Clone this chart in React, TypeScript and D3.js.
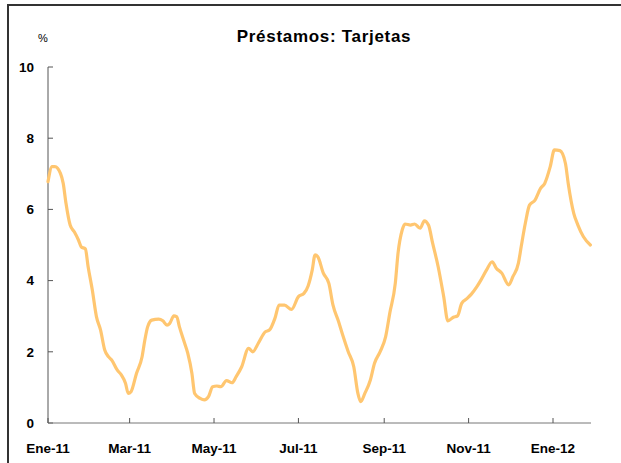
import React from "react";
import * as d3 from "d3";

const dates: string[] = [
  "2011-01-01","2011-01-04","2011-01-06","2011-01-10","2011-01-12","2011-01-14","2011-01-17","2011-01-20","2011-01-23","2011-01-25",
  "2011-01-28","2011-01-30","2011-02-02","2011-02-05","2011-02-08","2011-02-11","2011-02-14","2011-02-16","2011-02-20","2011-02-23",
  "2011-02-26","2011-02-28","2011-03-02","2011-03-06","2011-03-10","2011-03-12","2011-03-14","2011-03-17","2011-03-22","2011-03-25",
  "2011-03-28","2011-03-30","2011-04-02","2011-04-04","2011-04-06","2011-04-09","2011-04-12","2011-04-15","2011-04-17","2011-04-21",
  "2011-04-24","2011-04-27","2011-04-30","2011-05-03","2011-05-06","2011-05-10","2011-05-14","2011-05-17","2011-05-21","2011-05-26",
  "2011-05-29","2011-06-02","2011-06-07","2011-06-10","2011-06-14","2011-06-17","2011-06-21","2011-06-26","2011-07-01","2011-07-05",
  "2011-07-08","2011-07-11","2011-07-13","2011-07-15","2011-07-19","2011-07-23","2011-07-26","2011-07-30","2011-08-02","2011-08-06",
  "2011-08-10","2011-08-13","2011-08-15","2011-08-18","2011-08-22","2011-08-25","2011-08-29","2011-09-02","2011-09-05","2011-09-09",
  "2011-09-11","2011-09-14","2011-09-16","2011-09-20","2011-09-23","2011-09-27","2011-09-30","2011-10-03","2011-10-06","2011-10-10",
  "2011-10-14","2011-10-17","2011-10-21","2011-10-24","2011-10-27","2011-10-31","2011-11-03","2011-11-07","2011-11-10","2011-11-14",
  "2011-11-18","2011-11-21","2011-11-25","2011-11-30","2011-12-03","2011-12-07","2011-12-09","2011-12-12","2011-12-15","2011-12-19",
  "2011-12-23","2011-12-26","2011-12-30","2012-01-02","2012-01-06","2012-01-10","2012-01-12","2012-01-16","2012-01-19","2012-01-23",
  "2012-01-28",
];

const values: number[] = [
  6.78,7.20,7.20,7.01,6.73,6.17,5.56,5.37,5.14,4.95,
  4.89,4.39,3.74,2.99,2.61,2.05,1.85,1.77,1.49,1.35,
  1.12,0.83,0.88,1.40,1.86,2.33,2.70,2.89,2.92,2.87,
  2.75,2.80,3.01,2.99,2.70,2.33,1.96,1.40,0.83,0.69,
  0.65,0.74,1.02,1.04,1.02,1.19,1.13,1.30,1.58,2.10,
  2.00,2.24,2.56,2.61,2.94,3.31,3.31,3.19,3.55,3.64,
  3.85,4.30,4.72,4.67,4.21,3.92,3.31,2.85,2.47,2.00,
  1.58,0.83,0.60,0.83,1.21,1.68,2.00,2.42,3.08,3.92,
  4.77,5.42,5.59,5.56,5.59,5.47,5.68,5.56,5.05,4.39,
  3.55,2.87,2.97,3.01,3.36,3.50,3.62,3.83,4.02,4.30,
  4.53,4.35,4.21,3.88,4.11,4.49,4.95,5.61,6.12,6.26,
  6.59,6.73,7.20,7.67,7.65,7.29,6.73,5.89,5.56,5.23,
  5.00,
];

const yTicks: number[] = [0, 2, 4, 6, 8, 10];
const xTickDates: string[] = ["2011-01-01","2011-03-01","2011-05-01","2011-07-01","2011-09-01","2011-11-01","2012-01-01"];
const xTickLabels: string[] = ["Ene-11","Mar-11","May-11","Jul-11","Sep-11","Nov-11","Ene-12"];
const title = "Préstamos: Tarjetas";
const unit = "%";

const parse = d3.utcParse("%Y-%m-%d");

export default function App() {
  const W = 621, H = 463;
  const left = 48, right = 591, top = 67, bottom = 423;
  const x = d3.scaleUtc()
    .domain([parse("2011-01-01")!, parse("2012-01-01")!])
    .range([left, 553]);
  const y = d3.scaleLinear().domain([0, 10]).range([bottom, top]);
  const pts = dates.map((d, i) => ({ d: parse(d)!, v: values[i] }));
  const line = d3.line<{ d: Date; v: number }>()
    .x((p) => x(p.d))
    .y((p) => y(p.v))
    .curve(d3.curveMonotoneX);
  const font = "'Liberation Sans', Arial, sans-serif";
  return (
    <svg width={W} height={H} style={{ position: "absolute", left: 0, top: 0, background: "#fff" }} fontFamily={font}>
      <rect x={8} y={5} width={W + 20} height={H + 20} fill="#fff" stroke="#333" strokeWidth={2} />
      <text x={324} y={42} textAnchor="middle" fontSize={17} fontWeight="bold" letterSpacing={0.7} fill="#000">{title}</text>
      <text x={43} y={42} textAnchor="middle" fontSize={11} fill="#000">{unit}</text>
      {/* y axis */}
      <line x1={left} x2={left} y1={y(10)} y2={y(0)} stroke="#555" strokeWidth={1} />
      {yTicks.map((t) => (
        <g key={t}>
          <line x1={left} x2={left + 5} y1={y(t)} y2={y(t)} stroke="#555" strokeWidth={1} />
          <text x={34} y={y(t)} dy="0.36em" textAnchor="end" fontSize={13.5} fontWeight="bold" fill="#000">{t}</text>
        </g>
      ))}
      {/* x axis */}
      <line x1={left} x2={right} y1={bottom} y2={bottom} stroke="#777" strokeWidth={1} />
      {xTickDates.map((d, i) => {
        const xx = x(parse(d)!);
        return (
          <g key={d}>
            <line x1={xx} x2={xx} y1={bottom} y2={bottom - 5} stroke="#555" strokeWidth={1} />
            <text x={xx} y={453} textAnchor="middle" fontSize={13.5} fontWeight="bold" fill="#000">{xTickLabels[i]}</text>
          </g>
        );
      })}
      <path d={line(pts) || ""} fill="none" stroke="#FFC670" strokeWidth={3.2} strokeLinejoin="round" strokeLinecap="round" />
    </svg>
  );
}
